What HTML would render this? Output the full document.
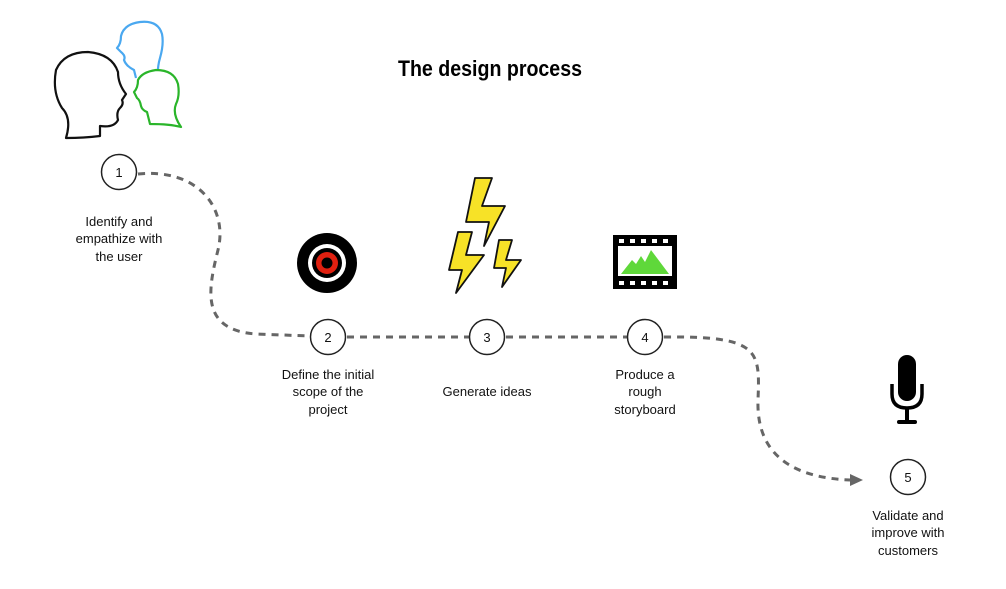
<!DOCTYPE html>
<html><head><meta charset="utf-8"><style>
html,body{margin:0;padding:0;background:#fff;}
svg{display:block;}
text{font-family:"Liberation Sans",sans-serif;font-size:13px;fill:#111;}
</style></head><body>
<svg width="1006" height="589" viewBox="0 0 1006 589" xmlns="http://www.w3.org/2000/svg">
<text x="490" y="76" text-anchor="middle" textLength="184" lengthAdjust="spacingAndGlyphs" style="font-family:'Liberation Sans Narrow','Liberation Sans',sans-serif;font-size:22px;font-weight:bold;fill:#000">The design process</text>

<!-- heads -->
<g fill="none" stroke-width="2.2" stroke-linejoin="round">
<path d="M136,78 L134,70 Q126,66 124,60 Q126,56 121,52 L117,48 Q121,44 121,36 Q124,24 140,22 Q158,20 162,34 Q164,44 160,58 Q157,68 158,80" stroke="#4aa8f0"/>
<path d="M66,138 Q72,118 62,108 Q52,92 56,70 Q64,52 88,52 Q112,54 118,72 Q118,84 126,94 L122,100 Q124,104 120,108 Q116,112 118,120 Q114,128 100,126 L100,136 Q84,138 66,138Z" stroke="#111" fill="#fff"/>
<path d="M181,127 Q170,124 150,124 L147,112 Q142,110 141,106 Q140,100 137,98 L134,92 Q138,88 138,80 Q142,72 156,70 Q174,70 178,84 Q180,96 176,104 Q172,114 181,127Z" stroke="#2ab52a" fill="#fff"/>
</g>

<!-- connectors -->
<g fill="none" stroke="#666" stroke-width="3" stroke-dasharray="7,6">
<path d="M138,174 C200,168 228,210 218,250 C208,290 200,330 256,334 L310,336"/>
<path d="M347,337 L469,337"/>
<path d="M506,337 L627,337"/>
<path d="M664,337 C760,336 760,350 758,400 C756,460 800,478 850,480"/>
</g>
<path d="M850,474 L863,480 L850,486Z" fill="#666"/>

<!-- circles -->
<g fill="#fff" stroke="#222" stroke-width="1.5">
<circle cx="119" cy="172" r="17.5"/>
<circle cx="328" cy="337" r="17.5"/>
<circle cx="487" cy="337" r="17.5"/>
<circle cx="645" cy="337" r="17.5"/>
<circle cx="908" cy="477" r="17.5"/>
</g>
<g text-anchor="middle" font-size="13">
<text x="119" y="177">1</text><text x="328" y="342">2</text><text x="487" y="342">3</text><text x="645" y="342">4</text><text x="908" y="482">5</text>
</g>

<!-- labels -->
<g text-anchor="middle">
<text x="119" y="226">Identify and</text><text x="119" y="243">empathize with</text><text x="119" y="261">the user</text>
<text x="328" y="379">Define the initial</text><text x="328" y="396">scope of the</text><text x="328" y="414">project</text>
<text x="487" y="396">Generate ideas</text>
<text x="645" y="379">Produce a</text><text x="645" y="396">rough</text><text x="645" y="414">storyboard</text>
<text x="908" y="520">Validate and</text><text x="908" y="537">improve with</text><text x="908" y="555">customers</text>
</g>

<!-- target -->
<circle cx="327" cy="263" r="30" fill="#000"/>
<circle cx="327" cy="263" r="19" fill="#fff"/>
<circle cx="327" cy="263" r="15" fill="#000"/>
<circle cx="327" cy="263" r="11" fill="#e02010"/>
<circle cx="327" cy="263" r="5.5" fill="#000"/>

<!-- bolts -->
<g fill="#f7e227" stroke="#111" stroke-width="1.8" stroke-linejoin="round">
<path d="M475,178 L492,178 L482,206 L505,206 L484,246 L489,222 L466,222Z"/>
<path d="M458,232 L472,232 L466,255 L484,255 L456,293 L462,270 L449,270Z"/>
<path d="M499,240 L512,240 L506,260 L521,260 L502,287 L506,268 L494,268Z"/>
</g>

<!-- film -->
<rect x="613" y="235" width="64" height="54" fill="#000"/>
<rect x="618" y="246" width="54" height="30" fill="#fff"/>
<g fill="#fff">
<rect x="619" y="239" width="5" height="4"/><rect x="630" y="239" width="5" height="4"/><rect x="641" y="239" width="5" height="4"/><rect x="652" y="239" width="5" height="4"/><rect x="663" y="239" width="5" height="4"/>
<rect x="619" y="281" width="5" height="4"/><rect x="630" y="281" width="5" height="4"/><rect x="641" y="281" width="5" height="4"/><rect x="652" y="281" width="5" height="4"/><rect x="663" y="281" width="5" height="4"/>
</g>
<path d="M621,274 L632,260 L636,264 L641,256 L645,262 L651,250 L669,274Z" fill="#5fd83a"/>

<!-- mic -->
<rect x="898" y="355" width="18" height="46" rx="9" fill="#000"/>
<path d="M892,384 L892,394 Q892,408 907,408 Q922,408 922,394 L922,384" fill="none" stroke="#000" stroke-width="3.5"/>
<rect x="905" y="407" width="4" height="14" fill="#000"/>
<rect x="897" y="420" width="20" height="4" rx="2" fill="#000"/>
</svg>
</body></html>
